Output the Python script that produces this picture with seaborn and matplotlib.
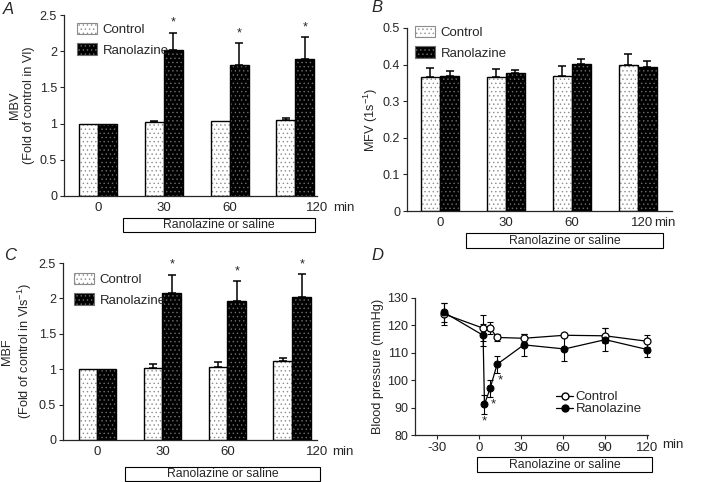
import numpy as np
import pandas as pd
import matplotlib
matplotlib.use("Agg")
import matplotlib.pyplot as plt
import matplotlib.transforms as mtransforms
from matplotlib.patches import Rectangle, Patch
from matplotlib.lines import Line2D
import seaborn as sns

# bar panels: time points and the two groups
times = ["0", "30", "60", "120"]
groups = ["Control", "Ranolazine"]

# A - MBV
mbv_control = [1.0, 1.02, 1.03, 1.05]
mbv_control_err = [0.0, 0.02, 0.0, 0.03]
mbv_ranolazine = [1.0, 2.01, 1.81, 1.89]
mbv_ranolazine_err = [0.0, 0.24, 0.30, 0.30]
mbv_stars = [False, True, True, True]

# B - MFV
mfv_control = [0.366, 0.365, 0.369, 0.398]
mfv_control_err = [0.024, 0.023, 0.026, 0.031]
mfv_ranolazine = [0.368, 0.378, 0.402, 0.394]
mfv_ranolazine_err = [0.015, 0.006, 0.013, 0.015]
mfv_stars = [False, False, False, False]

# C - MBF
mbf_control = [1.0, 1.02, 1.03, 1.12]
mbf_control_err = [0.0, 0.05, 0.07, 0.04]
mbf_ranolazine = [1.0, 2.07, 1.96, 2.02]
mbf_ranolazine_err = [0.0, 0.26, 0.28, 0.32]
mbf_stars = [False, True, True, True]

# D - blood pressure
bp_time_control = [-25, 3, 8, 13, 32, 61, 90, 120]
bp_control = [124.2, 119.0, 119.0, 115.6, 115.3, 116.4, 116.2, 114.2]
bp_control_err = [4.0, 4.8, 2.3, 1.3, 1.5, 0.8, 2.8, 2.2]
bp_time_ranolazine = [-25, 3, 4, 8, 13, 32, 61, 90, 120]
bp_ranolazine = [124.8, 116.4, 91.2, 97.0, 105.8, 112.9, 111.4, 114.8, 111.2]
bp_ranolazine_err = [3.4, 4.0, 3.5, 3.0, 3.0, 4.0, 4.5, 4.2, 2.8]
bp_star_time = [4, 10.5, 15.5]
bp_star_value = [85, 91, 100]
bp_ticks = [-30, 0, 30, 60, 90, 120]

sns.set_style("ticks")
plt.rcParams["font.family"] = ["Liberation Sans", "DejaVu Sans"]
plt.rcParams["mathtext.default"] = "regular"
plt.rcParams["hatch.linewidth"] = 0.5

W, H = 720, 482
fig = plt.figure(figsize=(7.2, 4.82), dpi=100)


def fxy(px, py):
    return px / W, 1 - py / H


def add_axes(left, top, right, bottom):
    return fig.add_axes([left / W, 1 - bottom / H, (right - left) / W, (bottom - top) / H])


def box(left, top, right, bottom, text="Ranolazine or saline"):
    fig.add_artist(Rectangle(fxy(left, bottom), (right - left) / W, (bottom - top) / H,
                             transform=fig.transFigure, fill=False, lw=0.8, ec="black"))
    fig.text((left + right) / 2 / W, 1 - (top + bottom) / 2 / H, text,
             ha="center", va="center", fontsize=8.8)


def place_ylabel(ax, right_px):
    # right edge of the rotated y label block, in figure pixels
    tr = mtransforms.blended_transform_factory(fig.transFigure, ax.transAxes)
    ax.yaxis.set_label_coords(right_px / W, 0.5, transform=tr)


def min_label(ax, left_px):
    # "min" sits on the same line as the x tick labels
    tr = mtransforms.blended_transform_factory(fig.transFigure, ax.transAxes)
    ax.annotate("min", (left_px / W, 0), xycoords=tr, xytext=(0, -4),
                textcoords="offset points", ha="left", va="top", fontsize=9.5,
                annotation_clip=False)


def bar_panel(ax, control, control_err, ranolazine, ranolazine_err, stars,
              ylim, yticks, ylabel, xlim, last_tick, legend_xy, label_px):
    df = pd.DataFrame({
        "time": times * 2,
        "group": ["Control"] * len(times) + ["Ranolazine"] * len(times),
        "value": control + ranolazine,
    })
    sns.barplot(data=df, x="time", y="value", hue="group", order=times,
                hue_order=groups, palette=["white", "black"], width=0.58,
                errorbar=None, legend=False, ax=ax)
    conts = list(ax.containers[:2])
    for cont, errs, dots in zip(conts, [control_err, ranolazine_err], ["#8c8c8c", "#6e6e6e"]):
        xs, tops, es = [], [], []
        for bar, e in zip(cont, errs):
            bar.set_hatch("....")
            bar.set_edgecolor(dots)
            bar.set_linewidth(0)
            ax.add_patch(Rectangle((bar.get_x(), 0), bar.get_width(), bar.get_height(),
                                   fill=False, ec="black", lw=1.0, zorder=3))
            if e > 0:
                xs.append(bar.get_x() + bar.get_width() / 2)
                tops.append(bar.get_height())
                es.append(e)
        ax.errorbar(xs, tops, yerr=[np.zeros(len(es)), es], fmt="none",
                    ecolor="black", elinewidth=1.1, capsize=3, capthick=1.1, zorder=2)
    # significance stars over ranolazine bars
    for bar, e, s in zip(conts[1], ranolazine_err, stars):
        if s:
            ax.annotate("*", (bar.get_x() + bar.get_width() / 2, bar.get_height() + e),
                        xytext=(0, 3), textcoords="offset points",
                        ha="center", va="bottom", fontsize=9)
    ax.set_ylim(*ylim)
    ax.set_xlim(*xlim)
    ax.set_yticks(yticks)
    ax.set_yticklabels(["%g" % t for t in yticks])
    ax.set_xticks([0, 1, 2, last_tick])
    ax.set_xticklabels(times)
    ax.tick_params(axis="x", length=0, pad=4, labelsize=9.5)
    ax.tick_params(axis="y", length=3, width=0.8, pad=2, labelsize=9)
    ax.set_xlabel("")
    ax.set_ylabel(ylabel, fontsize=9.2)
    place_ylabel(ax, label_px)
    sns.despine(ax=ax)
    for sp in ["left", "bottom"]:
        ax.spines[sp].set_linewidth(0.9)
    handles = [Patch(facecolor="white", edgecolor="#8c8c8c", hatch="....", lw=0.8),
               Patch(facecolor="black", edgecolor="#6e6e6e", hatch="....", lw=0.8)]
    ax.legend(handles, groups, loc="upper left", bbox_to_anchor=fxy(*legend_xy),
              bbox_transform=fig.transFigure, frameon=False, fontsize=9.5,
              handlelength=1.5, handleheight=0.95, handletextpad=0.45,
              labelspacing=0.55, borderpad=0, borderaxespad=0)


# A
axA = add_axes(64, 15, 317, 196)
bar_panel(axA, mbv_control, mbv_control_err, mbv_ranolazine, mbv_ranolazine_err, mbv_stars,
          (0, 2.5), [0, 0.5, 1, 1.5, 2, 2.5], "MBV\n(Fold of control in Vl)",
          (-0.52, 3.3), 3.33, (77, 23), 35)
min_label(axA, 333)
box(123, 218, 315, 232)

# B
axB = add_axes(407, 28, 672, 211)
bar_panel(axB, mfv_control, mfv_control_err, mfv_ranolazine, mfv_ranolazine_err, mfv_stars,
          (0, 0.5), [0, 0.1, 0.2, 0.3, 0.4, 0.5], r"MFV (1s$^{-1}$)",
          (-0.5, 3.52), 3.06, (415, 26), 380)
min_label(axB, 654)
box(466, 233, 663, 248)

# C
axC = add_axes(63, 263, 317, 440)
bar_panel(axC, mbf_control, mbf_control_err, mbf_ranolazine, mbf_ranolazine_err, mbf_stars,
          (0, 2.5), [0, 0.5, 1, 1.5, 2, 2.5], "MBF\n" + r"(Fold of control in Vls$^{-1}$)",
          (-0.53, 3.3), 3.38, (74, 273), 34)
min_label(axC, 332)
box(125, 467, 320, 481)

# D
axD = add_axes(415, 298, 648, 435)
axD.errorbar(bp_time_control, bp_control, yerr=bp_control_err, fmt="none", ecolor="black",
             elinewidth=0.8, capsize=2, capthick=0.8, zorder=3, clip_on=False)
axD.errorbar(bp_time_ranolazine, bp_ranolazine, yerr=bp_ranolazine_err, fmt="none",
             ecolor="black", elinewidth=0.8, capsize=2, capthick=0.8, zorder=3, clip_on=False)
sns.lineplot(x=bp_time_control, y=bp_control, color="black", lw=0.9, marker="o",
             markersize=5, markerfacecolor="white", markeredgecolor="black",
             markeredgewidth=0.9, ax=axD, zorder=4, clip_on=False)
sns.lineplot(x=bp_time_ranolazine, y=bp_ranolazine, color="black", lw=0.9, marker="o",
             markersize=5, markerfacecolor="black", markeredgecolor="black",
             ax=axD, zorder=5, clip_on=False, sort=False)
for t, v in zip(bp_star_time, bp_star_value):
    axD.text(t, v, "*", ha="center", va="center", fontsize=9.5)
axD.set_xlim(-45.5, 120.5)
axD.set_ylim(80, 130)
axD.set_xticks(bp_ticks)
axD.set_xticklabels(["%d" % t for t in bp_ticks])
axD.set_yticks([80, 90, 100, 110, 120, 130])
axD.tick_params(axis="both", length=3, width=0.8, pad=2, labelsize=9)
axD.tick_params(axis="x", labelsize=9.5)
axD.set_ylabel("Blood pressure (mmHg)", fontsize=9.2)
place_ylabel(axD, 384)
sns.despine(ax=axD)
for sp in ["left", "bottom"]:
    axD.spines[sp].set_linewidth(0.9)
d_handles = [Line2D([], [], color="black", lw=0.9, marker="o", markersize=5,
                    markerfacecolor="white"),
             Line2D([], [], color="black", lw=0.9, marker="o", markersize=5,
                    markerfacecolor="black")]
axD.legend(d_handles, groups, loc="upper left", bbox_to_anchor=fxy(556, 391),
           bbox_transform=fig.transFigure, frameon=False, fontsize=9.5,
           handlelength=1.3, handletextpad=0.2, labelspacing=0.0,
           borderpad=0, borderaxespad=0)
fig.text(*fxy(662, 445), "min", ha="left", va="center", fontsize=9.5)
box(477, 457, 652, 472)

# panel letters
for letter, (px, py) in zip("ABCD", [(8, 10), (377, 8), (10, 255), (377, 256)]):
    fig.text(*fxy(px, py), letter, ha="center", va="center", fontsize=12, style="italic")

fig.savefig("out.png", dpi=100)
